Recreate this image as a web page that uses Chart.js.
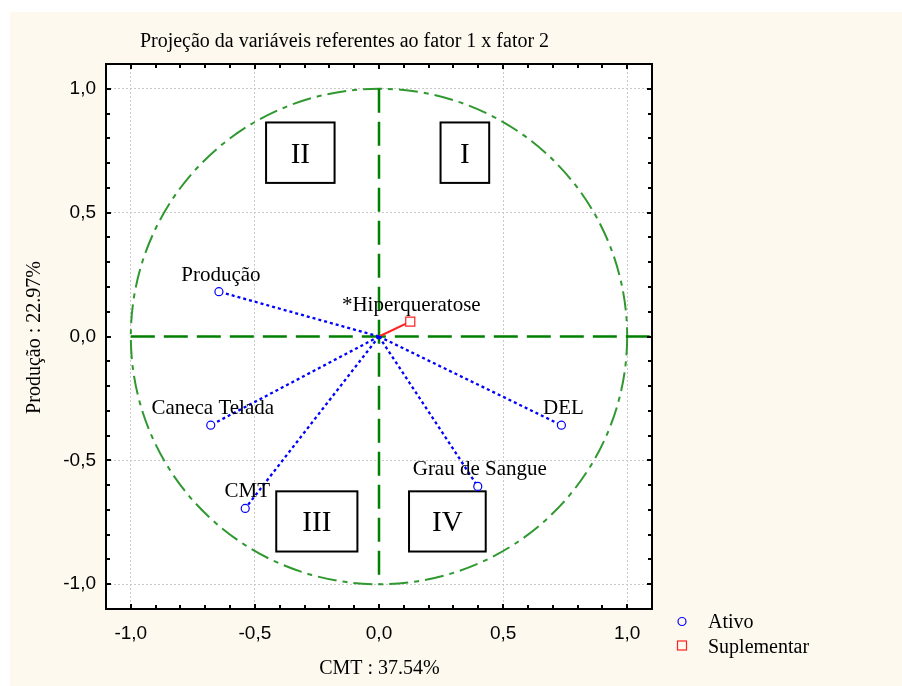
<!DOCTYPE html>
<html>
<head>
<meta charset="utf-8">
<script src="https://cdn.jsdelivr.net/npm/chart.js@4.4.1/dist/chart.umd.min.js"></script>
<style>
html,body{margin:0;padding:0;background:#ffffff;}
#wrap{width:902px;height:686px;position:relative;}
</style>
</head>
<body>
<div id="wrap"><canvas id="c" width="902" height="686"></canvas></div>
<script>
// ---- data ----
const variables = ["Produção", "Caneca Telada", "CMT", "DEL", "Grau de Sangue"];
const factor1 = [-0.645, -0.678, -0.539, 0.735, 0.398];
const factor2 = [0.181, -0.358, -0.694, -0.358, -0.605];
const suppVariables = ["*Hiperqueratose"];
const suppFactor1 = [0.126];
const suppFactor2 = [0.060];
const tickLabelValues = [-1.0, -0.5, 0.0, 0.5, 1.0];
const quadrantLabels = ["I", "II", "III", "IV"];
const legendLabels = ["Ativo", "Suplementar"];
const chartTitle = "Projeção da variáveis referentes ao fator 1 x fator 2";
const xAxisTitle = "CMT : 37.54%";
const yAxisTitle = "Produção : 22.97%";

// quadrant boxes in data coordinates [x1, x2, y1, y2]
const quadrantBoxes = [
  [0.248, 0.444, 0.864, 0.620],
  [-0.455, -0.179, 0.864, 0.620],
  [-0.414, -0.087, -0.625, -0.868],
  [0.121, 0.430, -0.625, -0.868]
];

const SERIF = '"Liberation Serif","Times New Roman",serif';
const SANS = '"Liberation Sans",Arial,sans-serif';
const BLUE = '#0000ff';
const RED = '#ff2020';

const isLabelTick = v => tickLabelValues.some(t => Math.abs(t - v) < 1e-6);

const datasets = [];
variables.forEach((name, i) => {
  datasets.push({
    label: name,
    data: [{x: 0, y: 0}, {x: factor1[i], y: factor2[i]}],
    showLine: true,
    borderColor: BLUE,
    borderWidth: 2.3,
    borderDash: [3, 3],
    pointRadius: ctx => ctx.dataIndex === 1 ? 4 : 0,
    pointHoverRadius: ctx => ctx.dataIndex === 1 ? 4 : 0,
    pointStyle: 'circle',
    pointBorderColor: BLUE,
    pointBackgroundColor: '#ffffff',
    pointBorderWidth: 1.2
  });
});
suppVariables.forEach((name, i) => {
  datasets.push({
    label: name,
    data: [{x: 0, y: 0}, {x: suppFactor1[i], y: suppFactor2[i]}],
    showLine: true,
    borderColor: RED,
    borderWidth: 2,
    pointRadius: ctx => ctx.dataIndex === 1 ? 6.4 : 0,
    pointHoverRadius: ctx => ctx.dataIndex === 1 ? 6.4 : 0,
    pointStyle: 'rect',
    pointBorderColor: RED,
    pointBackgroundColor: '#ffffff',
    pointBorderWidth: 1.2
  });
});

const decor = {
  id: 'decor',
  beforeDraw(chart) {
    const ctx = chart.ctx, a = chart.chartArea;
    ctx.save();
    ctx.fillStyle = '#ffffff';
    ctx.fillRect(0, 0, chart.width, chart.height);
    ctx.fillStyle = '#fef9ee';
    ctx.fillRect(10, 12, chart.width - 10, chart.height - 12);
    ctx.fillStyle = '#ffffff';
    ctx.fillRect(a.left, a.top, a.right - a.left, a.bottom - a.top);
    ctx.restore();
  },
  beforeDatasetsDraw(chart) {
    const ctx = chart.ctx, xs = chart.scales.x, ys = chart.scales.y, a = chart.chartArea;
    ctx.save();
    ctx.beginPath();
    ctx.rect(a.left, a.top, a.right - a.left, a.bottom - a.top);
    ctx.clip();
    const x0 = xs.getPixelForValue(0), y0 = ys.getPixelForValue(0);
    // unit circle
    ctx.strokeStyle = '#2f982f';
    ctx.lineWidth = 2;
    ctx.setLineDash([19, 6, 5, 6]);
    ctx.beginPath();
    ctx.ellipse(x0, y0, Math.abs(xs.getPixelForValue(1) - x0), Math.abs(ys.getPixelForValue(1) - y0), 0, 0, Math.PI * 2);
    ctx.stroke();
    // axes through origin
    ctx.strokeStyle = '#008000';
    ctx.lineWidth = 2.5;
    ctx.setLineDash([24, 9]);
    ctx.beginPath();
    ctx.moveTo(x0, ys.getPixelForValue(1));
    ctx.lineTo(x0, ys.getPixelForValue(-1));
    ctx.stroke();
    ctx.beginPath();
    ctx.moveTo(xs.getPixelForValue(-1), y0);
    ctx.lineTo(xs.getPixelForValue(xs.max), y0);
    ctx.stroke();
    // quadrant boxes
    ctx.setLineDash([]);
    quadrantBoxes.forEach((b, i) => {
      const px1 = xs.getPixelForValue(b[0]), px2 = xs.getPixelForValue(b[1]);
      const py1 = ys.getPixelForValue(b[2]), py2 = ys.getPixelForValue(b[3]);
      ctx.fillStyle = '#ffffff';
      ctx.fillRect(px1, py1, px2 - px1, py2 - py1);
      ctx.strokeStyle = '#000000';
      ctx.lineWidth = 2;
      ctx.strokeRect(px1, py1, px2 - px1, py2 - py1);
      ctx.fillStyle = '#000000';
      ctx.font = '29px ' + SERIF;
      ctx.textAlign = 'center';
      ctx.textBaseline = 'alphabetic';
      ctx.fillText(quadrantLabels[i], (px1 + px2) / 2, (py1 + py2) / 2 + 10);
    });
    ctx.restore();
  },
  afterDatasetsDraw(chart) {
    const ctx = chart.ctx, xs = chart.scales.x, ys = chart.scales.y, a = chart.chartArea;
    ctx.save();
    // point labels
    ctx.fillStyle = '#000000';
    ctx.font = '21px ' + SERIF;
    ctx.textAlign = 'center';
    ctx.textBaseline = 'alphabetic';
    variables.forEach((n, i) => {
      ctx.fillText(n, xs.getPixelForValue(factor1[i]) + 2, ys.getPixelForValue(factor2[i]) - 11);
    });
    suppVariables.forEach((n, i) => {
      ctx.fillText(n, xs.getPixelForValue(suppFactor1[i]) + 1, ys.getPixelForValue(suppFactor2[i]) - 11);
    });
    // plot border
    ctx.strokeStyle = '#000000';
    ctx.lineWidth = 2;
    ctx.strokeRect(a.left, a.top, a.right - a.left, a.bottom - a.top);
    // inward ticks
    ctx.lineWidth = 2;
    ctx.beginPath();
    xs.ticks.forEach(t => {
      const px = Math.round(xs.getPixelForValue(t.value));
      const L = isLabelTick(t.value) ? 5 : 4;
      ctx.moveTo(px, a.bottom); ctx.lineTo(px, a.bottom - L);
      ctx.moveTo(px, a.top); ctx.lineTo(px, a.top + L);
    });
    ys.ticks.forEach(t => {
      const py = Math.round(ys.getPixelForValue(t.value));
      const L = isLabelTick(t.value) ? 5 : 4;
      ctx.moveTo(a.left, py); ctx.lineTo(a.left + L, py);
      ctx.moveTo(a.right, py); ctx.lineTo(a.right - L, py);
    });
    ctx.stroke();
    // title
    ctx.fillStyle = '#000000';
    ctx.font = '20px ' + SERIF;
    ctx.textAlign = 'center';
    ctx.textBaseline = 'alphabetic';
    ctx.fillText(chartTitle, 344.5, 47);
    // axis titles
    ctx.textBaseline = 'middle';
    ctx.fillText(xAxisTitle, (a.left + a.right) / 2 + 0.5, 669);
    ctx.save();
    ctx.translate(35, (a.top + a.bottom) / 2 + 1);
    ctx.rotate(-Math.PI / 2);
    ctx.fillText(yAxisTitle, 0, 0);
    ctx.restore();
    // legend
    ctx.lineWidth = 1.2;
    ctx.strokeStyle = BLUE;
    ctx.beginPath();
    ctx.arc(682, 621.5, 4, 0, Math.PI * 2);
    ctx.stroke();
    ctx.strokeStyle = RED;
    ctx.strokeRect(677.5, 641, 9, 9);
    ctx.fillStyle = '#000000';
    ctx.font = '20px ' + SERIF;
    ctx.textAlign = 'left';
    ctx.textBaseline = 'alphabetic';
    ctx.fillText(legendLabels[0], 708, 628);
    ctx.fillText(legendLabels[1], 708, 652.5);
    ctx.restore();
  }
};

const gridColor = ctx => (ctx.tick && isLabelTick(ctx.tick.value) && Math.abs(ctx.tick.value) > 1e-6) ? '#c8c8c8' : 'rgba(0,0,0,0)';
const fmt = v => isLabelTick(v) ? (Math.round(v * 10) / 10).toFixed(1).replace('.', ',').replace('-0,0', '0,0') : '';

new Chart(document.getElementById('c'), {
  type: 'scatter',
  data: { datasets },
  options: {
    responsive: false,
    animation: false,
    devicePixelRatio: 1,
    layout: { padding: { top: 64, right: 250, left: 0, bottom: 0 } },
    plugins: { legend: { display: false }, tooltip: { enabled: false }, title: { display: false } },
    scales: {
      x: {
        type: 'linear', min: -1.1, max: 1.1,
        afterFit: s => { s.height = 77; },
        grid: { color: gridColor, lineWidth: 1, drawTicks: false },
        border: { display: false, dash: [2, 2] },
        ticks: { stepSize: 0.1, autoSkip: false, maxRotation: 0, padding: 13, color: '#000000',
                 font: { family: SANS, size: 19 }, callback: v => fmt(v) }
      },
      y: {
        type: 'linear', min: -1.1, max: 1.1,
        afterFit: s => { s.width = 106; },
        grid: { color: gridColor, lineWidth: 1, drawTicks: false },
        border: { display: false, dash: [2, 2] },
        ticks: { stepSize: 0.1, autoSkip: false, padding: 10, color: '#000000',
                 font: { family: SANS, size: 19 }, callback: v => fmt(v) }
      }
    }
  },
  plugins: [decor]
});
</script>
</body>
</html>
